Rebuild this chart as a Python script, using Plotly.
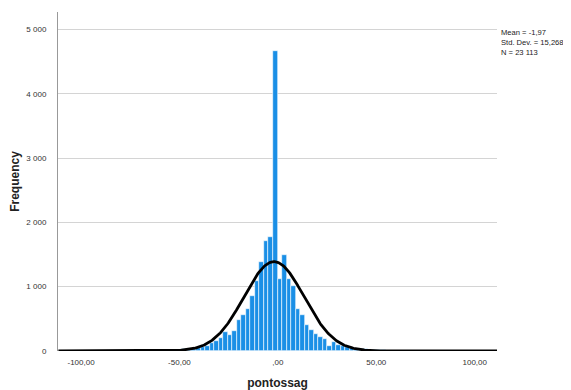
import numpy as np
import plotly.graph_objects as go

# Histogram bins (bin width and position of the spike bin, in data units)
bin_width = 2.3
first_center = -1.35  # centre of the tallest (spike) bin

# Frequencies left of spike bin (nearest first), spike, and right of spike (nearest first)
left_counts = [1770, 1710, 1383, 1089, 857, 660, 557, 485, 315, 248, 295, 196, 160, 124,
               83, 57, 46, 35, 30, 25, 20, 15, 12, 8, 6, 4, 3, 2, 2, 1]
spike_count = 4664
right_counts = [1115, 1486, 1125, 1011, 650, 557, 402, 330, 263, 222, 186, 83, 134, 100,
                72, 57, 46, 36, 31, 25, 20, 15, 12, 9, 7, 5, 4, 3, 2, 1]

# Summary statistics shown in the chart
stat_mean = -1.97
stat_sd = 15.268
stat_n = 23113

x_tick_vals = [-100, -50, 0, 50, 100]
x_tick_text = ["-100,00", "-50,00", ",00", "50,00", "100,00"]
y_tick_vals = [0, 1000, 2000, 3000, 4000, 5000]
y_tick_text = ["0", "1 000", "2 000", "3 000", "4 000", "5 000"]

counts = list(reversed(left_counts)) + [spike_count] + right_counts
n_left = len(left_counts)
centers = [first_center + (i - n_left) * bin_width for i in range(len(counts))]

# Fitted normal curve (from displayed mean / sd / N)
xc = np.linspace(-111.5, 111.5, 600)
yc = stat_n * bin_width / (stat_sd * np.sqrt(2 * np.pi)) * np.exp(-0.5 * ((xc - stat_mean) / stat_sd) ** 2)

fig = go.Figure()
fig.add_trace(go.Bar(
    x=centers, y=counts, width=bin_width,
    marker=dict(color="#1a8fe6", line=dict(color="white", width=0.6)),
    showlegend=False, hoverinfo="skip",
))
fig.add_trace(go.Scatter(
    x=xc, y=yc, mode="lines", line=dict(color="black", width=2.8),
    showlegend=False, hoverinfo="skip", cliponaxis=False,
))

# page body adds an 8px offset; size and margins compensate for it
fig.update_layout(
    width=563, height=382,
    margin=dict(l=50, r=74, t=4, b=39, autoexpand=False),
    paper_bgcolor="white", plot_bgcolor="white",
    font=dict(family="Arial, Liberation Sans, sans-serif", color="#333333", size=8),
    bargap=0,
    xaxis=dict(
        range=[-111.7, 111.3], tickvals=x_tick_vals, ticktext=x_tick_text,
        showgrid=False, zeroline=False, showline=False, ticks="", automargin=False,
        ticklabelstandoff=5,
        tickfont=dict(size=8, color="#333333"),
        title=dict(text="<b>pontossag</b>", font=dict(size=12, color="#222222"), standoff=14),
    ),
    yaxis=dict(
        range=[0, 5270], tickvals=y_tick_vals, ticktext=y_tick_text,
        showgrid=True, gridcolor="#d4d4d4", gridwidth=1, zeroline=False,
        showline=True, linecolor="#999999", linewidth=1, ticks="", automargin=False,
        ticklabelstandoff=9,
        tickfont=dict(size=8, color="#333333"),
        title=dict(text="<b>Frequency</b>", font=dict(size=12, color="#222222"), standoff=14),
    ),
    annotations=[dict(
        xref="paper", yref="paper", x=1.0, y=1.0, xshift=2, yshift=-14,
        xanchor="left", yanchor="top", align="left", showarrow=False,
        text="Mean = -1,97<br>Std. Dev. = 15,268<br>N = 23 113",
        font=dict(size=7.6, color="#222222"),
    )],
)

fig.write_html("out.html")
